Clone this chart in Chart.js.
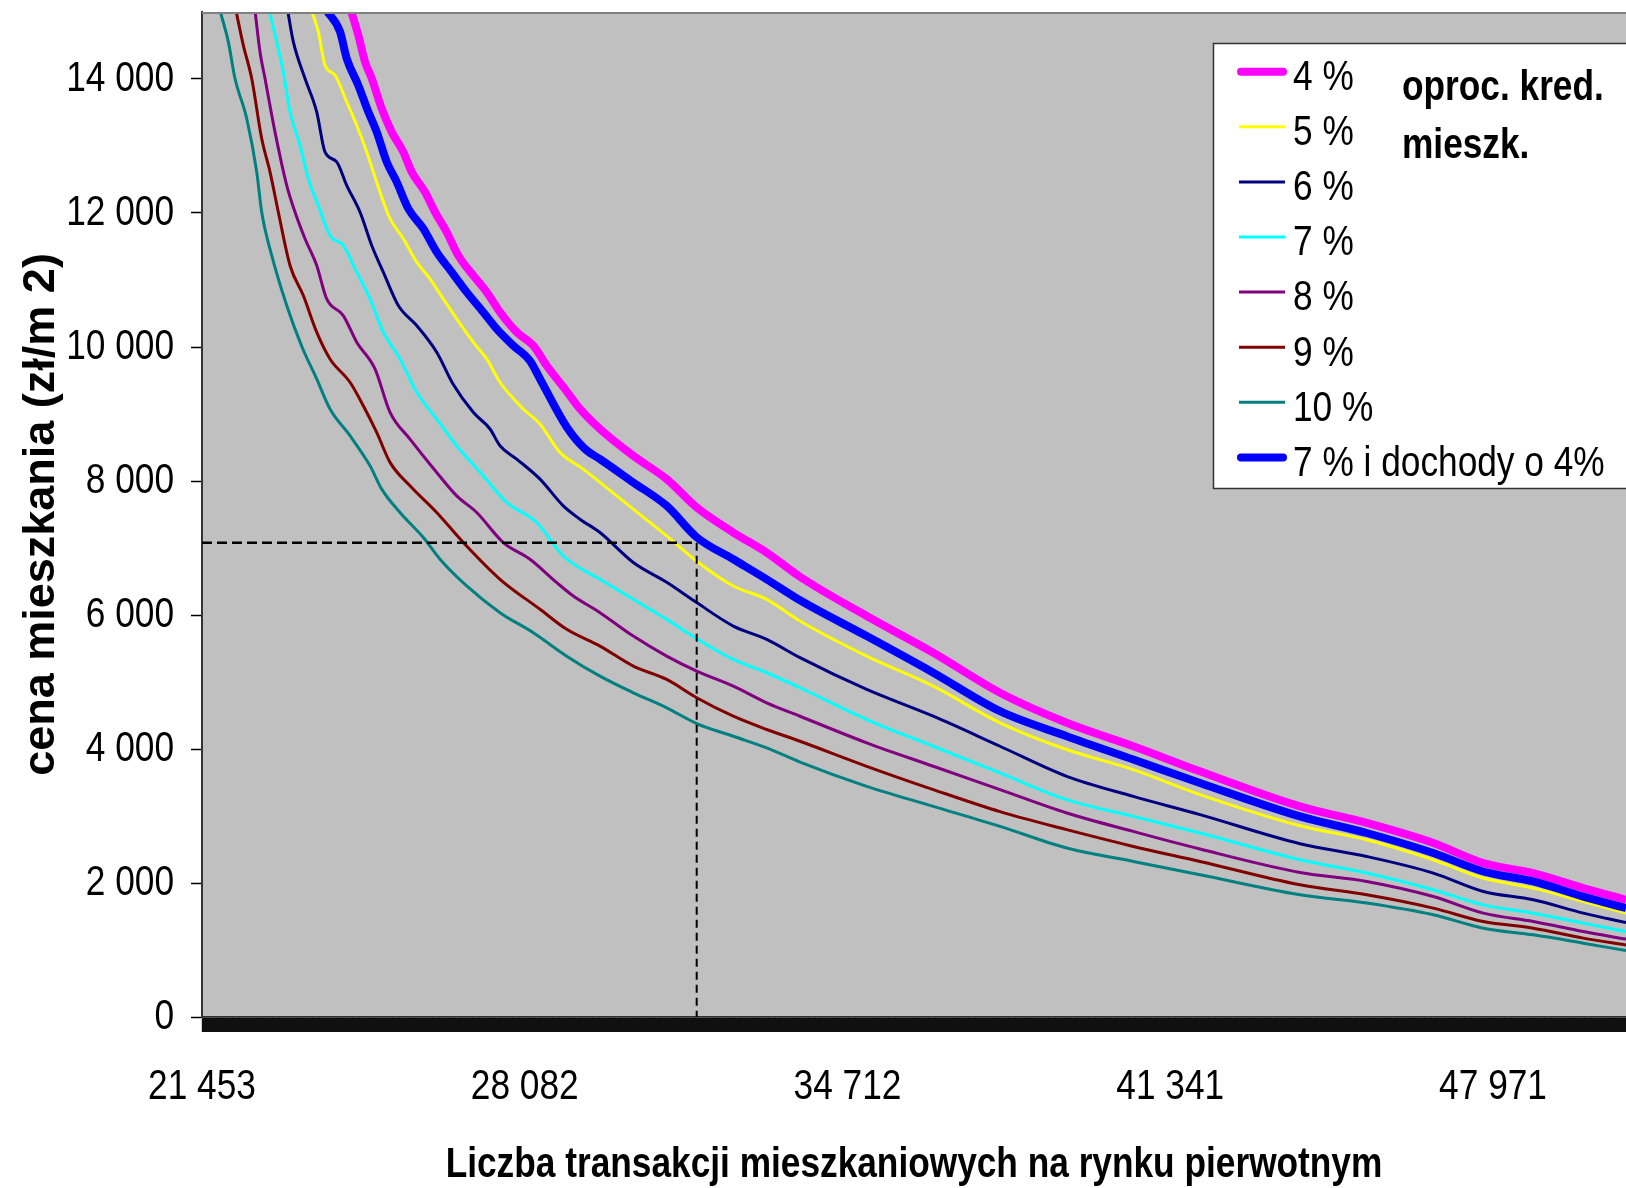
<!DOCTYPE html>
<html lang="pl">
<head>
<meta charset="utf-8">
<title>Cena mieszkania a liczba transakcji</title>
<script src="https://cdn.jsdelivr.net/npm/chart.js@4.4.1/dist/chart.umd.min.js"></script>
<style>
  html, body { margin: 0; padding: 0; background: #ffffff; }
  #wrap { width: 1626px; height: 1188px; position: relative; }
  canvas { display: block; }
</style>
</head>
<body>
<div id="wrap"><canvas id="chart" width="1626" height="1188"></canvas></div>
<script>
// ---- Axis ticks -------------------------------------------------------------
const xTickLabels = [21453, 28082, 34712, 41341, 47971];
const xAxisMax = 50702;
const yTickValues = [0, 2000, 4000, 6000, 8000, 10000, 12000, 14000];
const yAxisMax = 15000;

// ---- Reading guide (dashed lines) -------------------------------------------
const guideCount = 31614;
const guidePrice = 7080;

// ---- Texts ---------------------------------------------------------------------
const seriesLabels = ['4 %', '5 %', '6 %', '7 %', '8 %', '9 %', '10 %', '7 % i dochody o 4%'];
const xTitle = 'Liczba transakcji mieszkaniowych na rynku pierwotnym';
const yTitle = 'cena mieszkania (zł/m 2)';
const noteLines = ['oproc. kred.', 'mieszk.'];

// ---- Shared transaction counts for the flatter right-hand part ------------------
const tailCounts = [29628, 30312, 30998, 31614, 32366, 33052, 33736, 35106, 36474, 37844,
                    39214, 40582, 41952, 44006, 45376, 46744, 47771, 48798, 49825, 50702];

// ---- 4 % ---------------------------------------------------------------------------
const head4x = [24513, 24663, 24801, 24939, 25144, 25349, 25588, 25760, 26033, 26239, 26479, 26717, 27025, 27301, 27574, 27917, 28258, 28533, 28874, 29217];
const head4y = [15020, 14655, 14258, 14008, 13560, 13211, 12912, 12613, 12314, 12015, 11716, 11366, 11067, 10819, 10520, 10221, 10021, 9722, 9404, 9075];
const tail4  = [8776, 8376, 8028, 7605, 7231, 6932, 6571, 5984, 5437, 4839, 4391, 4041, 3667, 3144, 2896, 2597, 2298, 2148, 1924, 1749];

// ---- 5 % ---------------------------------------------------------------------------
const head5x = [23706, 23842, 23979, 24185, 24425, 24631, 24836, 25109, 25315, 25588, 25863, 26136, 26409, 26685, 27025, 27301, 27574, 28053, 28396, 28806, 29285];
const head5y = [15020, 14706, 14207, 14058, 13660, 13310, 12912, 12314, 11915, 11616, 11268, 11018, 10719, 10420, 10072, 9822, 9474, 9075, 8850, 8427, 8178];
const tail5  = [7979, 7580, 7180, 6802, 6433, 6234, 5910, 5386, 4938, 4391, 3992, 3693, 3319, 2855, 2646, 2347, 2074, 1924, 1724, 1550];

// ---- 6 % ---------------------------------------------------------------------------
const head6x = [23213, 23328, 23569, 23809, 23979, 24220, 24425, 24698, 24939, 25177, 25485, 25863, 26274, 26609, 27025, 27369, 27574, 27917, 28396, 28874, 29217];
const head6y = [15020, 14557, 14008, 13510, 12912, 12763, 12413, 12015, 11516, 11118, 10619, 10320, 9922, 9448, 9025, 8776, 8526, 8327, 8028, 7629, 7430];
const tail6  = [7231, 6783, 6488, 6185, 5835, 5636, 5363, 4889, 4489, 4041, 3592, 3293, 3020, 2586, 2396, 2148, 1873, 1749, 1550, 1410];

// ---- 7 % ---------------------------------------------------------------------------
const head7x = [22835, 22987, 23123, 23261, 23466, 23636, 23842, 24082, 24355, 24631, 24904, 25177, 25520, 25863, 26274, 26685, 27231, 27712, 28328, 28874];
const head7y = [15020, 14557, 14108, 13510, 13011, 12513, 12114, 11665, 11516, 11118, 10719, 10221, 9822, 9324, 8925, 8526, 8077, 7680, 7381, 6881];
const tail7  = [6533, 6234, 5935, 5647, 5337, 5138, 4914, 4440, 4041, 3643, 3244, 2994, 2746, 2347, 2148, 1899, 1674, 1550, 1401, 1275];

// ---- 8 % ---------------------------------------------------------------------------
const head8x = [22542, 22644, 22747, 22952, 23193, 23363, 23569, 23809, 24014, 24355, 24631, 25006, 25315, 25725, 26274, 26685, 27096, 27642, 28190, 28739, 29080];
const head8y = [15020, 14407, 14008, 13211, 12413, 12015, 11616, 11217, 10719, 10469, 10072, 9673, 9025, 8626, 8128, 7778, 7530, 7082, 6832, 6484, 6283];
const tail8  = [6035, 5685, 5386, 5162, 4938, 4690, 4489, 4092, 3742, 3394, 3045, 2770, 2507, 2157, 2023, 1798, 1550, 1425, 1275, 1162];

// ---- 9 % ---------------------------------------------------------------------------
const head9x = [22151, 22301, 22474, 22679, 22850, 23020, 23261, 23534, 23809, 24082, 24493, 24766, 25041, 25315, 25725, 26274, 26820, 27574, 28396, 28944];
const head9y = [15020, 14506, 14008, 13111, 12613, 12015, 11217, 10768, 10221, 9822, 9474, 9124, 8726, 8278, 7928, 7530, 7082, 6533, 6085, 5786];
const tail9  = [5536, 5237, 5038, 4765, 4489, 4291, 4116, 3742, 3394, 3065, 2796, 2546, 2322, 1973, 1824, 1625, 1425, 1326, 1177, 1076];

// ---- 10 % --------------------------------------------------------------------------
const head10x = [21823, 21993, 22131, 22371, 22577, 22679, 22885, 23193, 23501, 23809, 24082, 24493, 24904, 25144, 25520, 25999, 26342, 26890, 27574, 28258, 28944];
const head10y = [15020, 14557, 14008, 13410, 12613, 12015, 11366, 10619, 10012, 9523, 9075, 8676, 8227, 7879, 7530, 7157, 6832, 6433, 6035, 5736, 5386];
const tail10  = [5087, 4839, 4615, 4380, 4190, 4017, 3805, 3443, 3144, 2845, 2522, 2322, 2123, 1824, 1700, 1525, 1326, 1226, 1102, 991];

// ---- 7 % with incomes up 4 % ---------------------------------------------------------
const head7incX = [24014, 24288, 24425, 24663, 24869, 25041, 25247, 25452, 25690, 25999, 26274, 26582, 26890, 27231, 27506, 27847, 28190, 28396, 28944, 29320];
const head7incY = [15020, 14706, 14307, 13908, 13510, 13211, 12763, 12464, 12065, 11766, 11417, 11118, 10819, 10520, 10271, 10021, 9792, 9523, 8806, 8477];
const tail7inc  = [8327, 7979, 7629, 7161, 6832, 6533, 6219, 5685, 5138, 4564, 4190, 3842, 3494, 2994, 2746, 2447, 2172, 2023, 1798, 1625];

// ---- Styling -------------------------------------------------------------------------
const SANS = '"Liberation Sans", Arial, Helvetica, sans-serif';
const NARROW_X = 0.82;          // horizontal squeeze giving a narrow Arial look
const seriesColors = ['#FF00FF', '#FFFF00', '#000080', '#00FFFF', '#800080', '#800000', '#008080', '#0000FF'];
const seriesWidths = [8, 3, 3, 3, 3, 3, 3, 8];

const fmt = v => String(v).replace(/\B(?=(\d{3})+(?!\d))/g, ' ');

function joinSeries(hx, hy, tail) {
  const pts = hx.map((x, i) => ({ x: x, y: hy[i] }));
  tailCounts.forEach((x, i) => pts.push({ x: x, y: tail[i] }));
  return pts;
}

const seriesData = [
  joinSeries(head4x, head4y, tail4),
  joinSeries(head5x, head5y, tail5),
  joinSeries(head6x, head6y, tail6),
  joinSeries(head7x, head7y, tail7),
  joinSeries(head8x, head8y, tail8),
  joinSeries(head9x, head9y, tail9),
  joinSeries(head10x, head10y, tail10),
  joinSeries(head7incX, head7incY, tail7inc)
];

const datasets = seriesData.map((pts, i) => ({
  label: seriesLabels[i],
  data: pts,
  borderColor: seriesColors[i],
  backgroundColor: seriesColors[i],
  borderWidth: seriesWidths[i],
  pointRadius: 0,
  fill: false,
  cubicInterpolationMode: 'monotone',
  borderJoinStyle: 'round',
  clip: 0,
  order: seriesData.length - i,   // later series are painted on top
  isSeries: true
}));

// dashed reading guide
datasets.push({
  label: 'guide-h',
  data: [{ x: xTickLabels[0], y: guidePrice }, { x: guideCount, y: guidePrice }],
  borderColor: '#000000', borderWidth: 2.5, borderDash: [10, 5],
  pointRadius: 0, fill: false, clip: 0, order: -1
});
datasets.push({
  label: 'guide-v',
  data: [{ x: guideCount, y: guidePrice }, { x: guideCount, y: 0 }],
  borderColor: '#000000', borderWidth: 2, borderDash: [8, 5],
  pointRadius: 0, fill: false, clip: 0, order: -1
});

// text drawn with a horizontal squeeze (narrow face)
function narrowText(ctx, text, x, y, size, weight, align, baseline) {
  ctx.save();
  ctx.translate(x, y);
  ctx.scale(NARROW_X, 1);
  ctx.font = (weight ? weight + ' ' : '') + size + 'px ' + SANS;
  ctx.fillStyle = '#000000';
  ctx.textAlign = align;
  ctx.textBaseline = baseline;
  ctx.fillText(text, 0, 0);
  ctx.restore();
}

// grey plot area and its top edge
const plotBackground = {
  id: 'plotBackground',
  beforeDraw(chart) {
    const { ctx, chartArea: a } = chart;
    ctx.save();
    ctx.fillStyle = '#C0C0C0';
    ctx.fillRect(a.left, a.top, a.right - a.left, a.bottom - a.top);
    ctx.restore();
  },
  afterDatasetsDraw(chart) {
    const { ctx, chartArea: a } = chart;
    ctx.save();
    ctx.strokeStyle = '#808080';
    ctx.lineWidth = 2;
    ctx.beginPath();
    ctx.moveTo(a.left, a.top + 1);
    ctx.lineTo(a.right, a.top + 1);
    ctx.stroke();
    ctx.restore();
  }
};

// tick labels and the horizontal axis title in the narrow face
const axisText = {
  id: 'axisText',
  afterDraw(chart) {
    const ctx = chart.ctx;
    const xs = chart.scales.x, ys = chart.scales.y;
    yTickValues.forEach(v => {
      narrowText(ctx, fmt(v), ys.right - 28, ys.getPixelForValue(v), 43, '', 'right', 'middle');
    });
    xTickLabels.forEach(v => {
      narrowText(ctx, fmt(v), xs.getPixelForValue(v), xs.top + 70, 43, '', 'center', 'middle');
    });
    const a = chart.chartArea;
    narrowText(ctx, xTitle, (a.left + a.right) / 2, xs.top + 148, 43, 'bold', 'center', 'middle');
  }
};

// boxed legend with the side note
const boxedLegend = {
  id: 'boxedLegend',
  afterDraw(chart) {
    const ctx = chart.ctx;
    const boxL = 1213.5, boxT = 43.5, boxB = 488.5;
    ctx.save();
    ctx.fillStyle = '#ffffff';
    ctx.fillRect(boxL, boxT, chart.width - boxL + 20, boxB - boxT);
    ctx.strokeStyle = '#333333';
    ctx.lineWidth = 1.5;
    ctx.strokeRect(boxL, boxT, chart.width - boxL + 20, boxB - boxT);

    const rowTop = 71.7, rowStep = 55.1;
    chart.data.datasets.filter(d => d.isSeries).forEach((ds, i) => {
      const y = rowTop + i * rowStep;
      const thick = ds.borderWidth > 5;
      ctx.strokeStyle = ds.borderColor;
      ctx.lineWidth = thick ? 8 : 3;
      ctx.lineCap = thick ? 'round' : 'butt';
      ctx.beginPath();
      ctx.moveTo(thick ? 1241 : 1239, y);
      ctx.lineTo(thick ? 1283 : 1285, y);
      ctx.stroke();
      narrowText(ctx, ds.label, 1293, y + 18.3, 43, '', 'left', 'alphabetic');
    });
    narrowText(ctx, noteLines[0], 1402, 100, 43, 'bold', 'left', 'alphabetic');
    narrowText(ctx, noteLines[1], 1402, 157.7, 43, 'bold', 'left', 'alphabetic');
    ctx.restore();
  }
};

// dense category-style tick marks along the bottom axis
const denseStep = (xTickLabels[1] - xTickLabels[0]) / 460;

new Chart(document.getElementById('chart'), {
  type: 'line',
  data: { datasets: datasets },
  plugins: [plotBackground, axisText, boxedLegend],
  options: {
    responsive: false,
    animation: false,
    devicePixelRatio: 1,
    events: [],
    layout: { padding: { top: 12, left: 0, right: 0, bottom: 0 } },
    plugins: {
      legend: { display: false },
      tooltip: { enabled: false },
      title: { display: false }
    },
    scales: {
      x: {
        type: 'linear',
        position: 'bottom',
        min: xTickLabels[0],
        max: xAxisMax,
        afterBuildTicks(scale) {
          const ticks = [];
          for (let v = xTickLabels[0]; v <= xAxisMax + 1e-6; v += denseStep) {
            ticks.push({ value: v });
          }
          scale.ticks = ticks;
        },
        afterFit(scale) { scale.height = 171; },
        ticks: { display: false, autoSkip: false },
        grid: {
          drawOnChartArea: false,
          drawTicks: true,
          tickLength: 15,
          tickColor: '#111111',
          tickWidth: 1.2
        },
        border: { display: true, color: '#333333', width: 1.5 },
        title: { display: false }
      },
      y: {
        type: 'linear',
        position: 'left',
        min: 0,
        max: yAxisMax,
        afterBuildTicks(scale) {
          scale.ticks = yTickValues.map(v => ({ value: v }));
        },
        afterFit(scale) { scale.width = 202; },
        ticks: { display: false },
        grid: {
          drawOnChartArea: false,
          drawTicks: true,
          tickLength: 11,
          tickColor: '#000000',
          tickWidth: 1.5
        },
        border: { display: true, color: '#333333', width: 2 },
        title: {
          display: true,
          text: yTitle,
          color: '#000000',
          font: { family: SANS, size: 45, weight: 'bold', lineHeight: 1 },
          padding: { top: 19, bottom: 0 }
        }
      }
    }
  }
});
</script>
</body>
</html>
